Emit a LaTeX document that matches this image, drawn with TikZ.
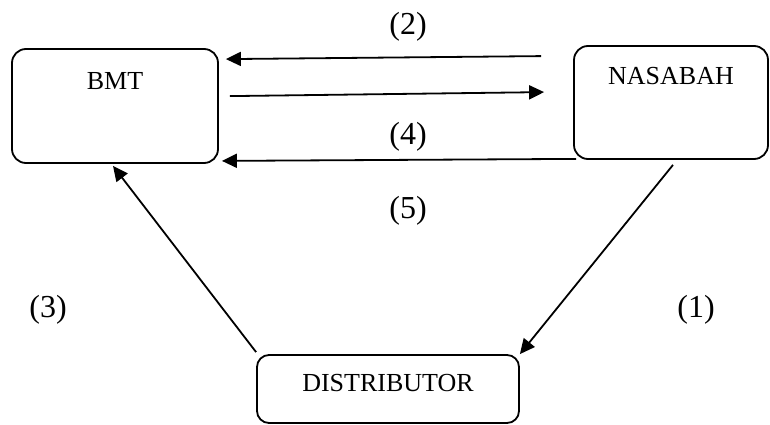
\documentclass[tikz,border=0pt]{standalone}
\usepackage{fontspec}
\setmainfont{Liberation Serif}
\usetikzlibrary{arrows.meta}

\begin{document}
\begin{tikzpicture}[x=1pt, y=-1pt]
	\tikzstyle{Box} = [rectangle, rounded corners=14pt, draw=black, line width=1.8pt, inner sep=0pt]
	\tikzstyle{Name} = [font=\fontsize{26}{30}\selectfont, inner sep=0pt]
	\tikzstyle{Num} = [font=\fontsize{32}{36}\selectfont, inner sep=0pt]
	\tikzstyle{arrow} = [line width=1.8pt, -{Triangle[length=15pt, width=14pt]}]

	\path[use as bounding box, clip] (0, 0) rectangle (770, 425);

	% the three parties
	\node (bmt) [Box, minimum width=206pt, minimum height=114pt] at (115, 106) {};
	\node (nasabah) [Box, minimum width=194pt, minimum height=113pt] at (671, 102.5) {};
	\node (dist) [Box, rounded corners=12pt, minimum width=262pt, minimum height=68pt] at (388, 389) {};

	\node (bmtText) [Name] at ([yshift=-33pt]bmt.north) {BMT};
	\node (nasabahText) [Name] at ([yshift=-31pt]nasabah.north) {NASABAH};
	\node (distText) [Name] at ([yshift=-29pt]dist.north) {DISTRIBUTOR};

	% flows between them
	\draw [arrow] ([xshift=-32pt, yshift=-11pt]nasabah.north west) -- ([xshift=7pt, yshift=-11pt]bmt.north east);
	\draw [arrow] ([xshift=11pt, yshift=-48pt]bmt.north east) -- ([xshift=-29pt, yshift=-47pt]nasabah.north west);
	\draw [arrow] ([xshift=3pt, yshift=1pt]nasabah.south west) -- ([xshift=3pt, yshift=3pt]bmt.south east);
	\draw [arrow] ([yshift=2pt]dist.north west) -- ([xshift=-2pt, yshift=-2pt]bmt.south);
	\draw [arrow] ([xshift=2pt, yshift=-5pt]nasabah.south) -- (dist.north east);

	% step numbers
	\node (n2) [Num] at (408, 27) {(2)};
	\node (n4) [Num] at (408, 137) {(4)};
	\node (n5) [Num] at (408, 211) {(5)};
	\node (n3) [Num] at (48, 310) {(3)};
	\node (n1) [Num] at (696, 310) {(1)};
\end{tikzpicture}
\end{document}
